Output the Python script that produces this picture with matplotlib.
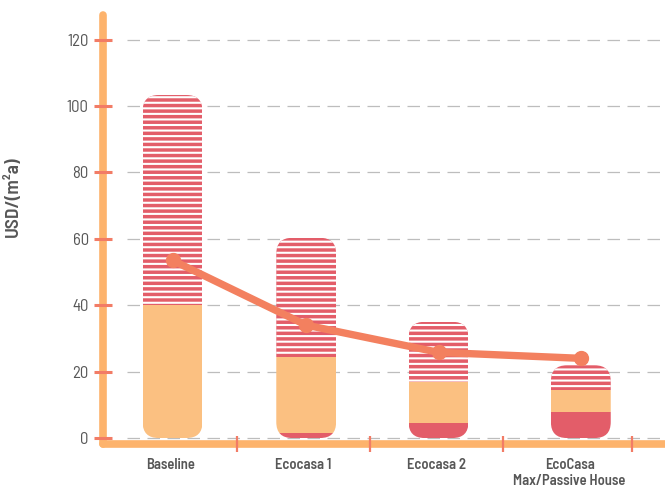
import matplotlib
matplotlib.use("Agg")
import matplotlib.pyplot as plt
from matplotlib.patches import FancyBboxPatch
import numpy as np

# ---- data ----
categories = ["Baseline", "Ecocasa 1", "Ecocasa 2", "EcoCasa\nMax/Passive House"]
seg_red = [0.0, 1.5, 4.4, 7.8]          # bottom solid red
seg_orange = [40.0, 23.0, 12.6, 6.6]    # light orange
seg_hatched = [63.3, 35.8, 18.0, 7.5]   # striped red
line_vals = [53.5, 34.0, 25.8, 24.0]
yticks = [0, 20, 40, 60, 80, 100, 120]

# ---- style ----
C_RED = "#e35d69"
C_ORANGE = "#fbc081"
C_LINE = "#f3805f"
C_SPINE = "#fdb36c"
C_TICK = "#f27c66"
C_GRID = "#bdbdbd"
C_TEXT = "#575757"
FONT = ["Barlow Semi Condensed", "DejaVu Sans"]

plt.rcParams["font.family"] = FONT
plt.rcParams["hatch.linewidth"] = 1.5

fig = plt.figure(figsize=(6.65, 4.88), dpi=100)
ax = fig.add_axes([103 / 665, 1 - 444 / 488, 1 - 103 / 665, (444 - 15) / 488])
ax.set_xlim(-0.508, 3.718)
ax.set_ylim(-1.8, 127.4)

x = np.arange(len(categories))
shift = np.array([0.015, 0.02, 0.015, 0.085])
xb = x + shift
width = 0.45
r_x = 0.12
aspect = 40.0

for s in ax.spines.values():
    s.set_visible(False)

# grid
ax.hlines(yticks, -0.33, 3.718, colors=C_GRID, linewidth=0.9,
          linestyles=(0, (10, 6)), zorder=1)

red = np.array(seg_red)
ora = np.array(seg_orange)
hat = np.array(seg_hatched)
totals = red + ora + hat

b1 = ax.bar(xb, red, width, bottom=0, color=C_RED, linewidth=0, zorder=2)
b2 = ax.bar(xb, ora, width, bottom=red, color=C_ORANGE, linewidth=0, zorder=2)
b3 = ax.bar(xb, hat, width, bottom=red + ora, color=C_RED, edgecolor="white",
            hatch="---", linewidth=0, zorder=2)

for i in range(len(categories)):
    clip = FancyBboxPatch((xb[i] - width / 2, 0), width, totals[i],
                          boxstyle=f"round,pad=0,rounding_size={r_x}",
                          mutation_aspect=aspect, facecolor="none",
                          edgecolor="none", linewidth=0, transform=ax.transData)
    ax.add_patch(clip)
    for bars in (b1, b2, b3):
        bars[i].set_clip_path(clip)

# line
ax.plot(xb, line_vals, color=C_LINE, lw=5.3, marker="o", ms=10,
        solid_capstyle="round", zorder=4)

# axis lines
ax.plot([0, 0], [0, 1], transform=ax.transAxes, color=C_SPINE, lw=5.5,
        solid_capstyle="round", clip_on=False, zorder=3)
ax.plot([0, 1.01], [0, 0], transform=ax.transAxes, color=C_SPINE, lw=5.5,
        solid_capstyle="round", clip_on=False, zorder=3)

ax.xaxis.set_zorder(5)
ax.yaxis.set_zorder(5)

ax.set_yticks(yticks)
ax.tick_params(axis="y", direction="inout", length=12.5, width=2.2,
               color=C_TICK, labelsize=12, labelcolor=C_TEXT, pad=4)

ax.set_xticks([0.5, 1.5, 2.5, 3.47])
ax.set_xticklabels([])
ax.tick_params(axis="x", which="major", direction="inout", length=12,
               width=1.6, color=C_TICK)
ax.set_xticks(x, categories, minor=True)
ax.tick_params(axis="x", which="minor", length=0, pad=10, labelsize=10.5,
               labelcolor=C_TEXT)
for t in ax.get_xticklabels(minor=True):
    t.set_fontweight("semibold")
    t.set_linespacing(1.2)

ax.set_ylabel("USD/(m²a)", fontsize=14, fontweight="semibold", color=C_TEXT)
ax.yaxis.set_label_coords(-0.144, 0.576)

fig.savefig("out.png", dpi=100)
